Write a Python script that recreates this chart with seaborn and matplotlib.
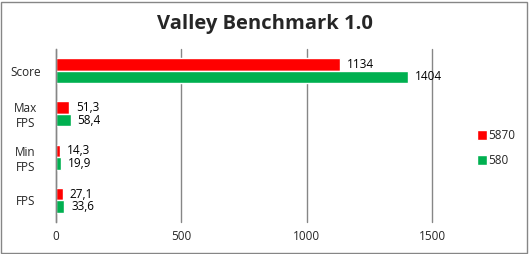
import matplotlib
matplotlib.use("Agg")
import matplotlib.pyplot as plt
import seaborn as sns
import pandas as pd
from matplotlib.patches import Rectangle

categories = ["Score", "Max\nFPS", "Min\nFPS", "FPS"]
series_names = ["5870", "580"]
values_5870 = [1134, 51.3, 14.3, 27.1]
values_580 = [1404, 58.4, 19.9, 33.6]
labels_5870 = ["1134", "51,3", "14,3", "27,1"]
labels_580 = ["1404", "58,4", "19,9", "33,6"]
xticks = [0, 500, 1000, 1500]

colors = {"5870": "#FF0000", "580": "#00B050"}

rows = []
for c, v in zip(categories, values_5870):
    rows.append({"cat": c, "series": "5870", "value": v})
for c, v in zip(categories, values_580):
    rows.append({"cat": c, "series": "580", "value": v})
df = pd.DataFrame(rows)

sns.set_style("white")
plt.rcParams["font.family"] = ["Open Sans", "DejaVu Sans"]

fig = plt.figure(figsize=(5.29, 2.54), dpi=100)
fig.patch.set_facecolor("white")
fig.patches.append(Rectangle((0.002, 0.004), 0.995, 0.99, transform=fig.transFigure,
                             fill=False, edgecolor="#868686", linewidth=1.0))

ax = fig.add_axes([56 / 529, 32 / 254, (432 - 56) / 529, (222 - 49) / 254])
sns.barplot(data=df, y="cat", x="value", hue="series", orient="h",
            order=categories, hue_order=series_names, palette=colors,
            width=0.58, saturation=1, ax=ax, legend=False)

for cont, labs in zip(ax.containers, [labels_5870, labels_580]):
    ax.bar_label(cont, labels=labs, padding=5, fontsize=8.5, color="#000000")

ax.set_xlim(0, 1500)
ax.set_xticks(xticks)
ax.set_xticklabels([str(t) for t in xticks], fontsize=8.5)
ax.tick_params(axis="x", length=0, pad=6)
ax.tick_params(axis="y", labelsize=8.5, length=0, pad=22)
for lab in ax.get_yticklabels():
    lab.set_horizontalalignment("center")
    lab.set_multialignment("center")
ax.set_xlabel("")
ax.set_ylabel("")
ax.grid(axis="x", color="#868686", linewidth=1.0)
for gl in ax.get_xgridlines():
    gl.set_clip_on(False)
ax.set_axisbelow(True)
for s in ["top", "right", "bottom"]:
    ax.spines[s].set_visible(False)
ax.spines["left"].set_color("#868686")
ax.spines["left"].set_linewidth(1.0)

handles = [Rectangle((0, 0), 1, 1, facecolor=colors[n]) for n in series_names]
fig.legend(handles, series_names, loc="center left", bbox_to_anchor=(466 / 529, 1 - 148 / 254),
           frameon=False, fontsize=8.5, handlelength=0.85, handleheight=0.85,
           handletextpad=0.15, labelspacing=1.0)

fig.text(0.5, 1 - 24 / 254, "Valley Benchmark 1.0", ha="center", va="center",
         fontsize=14.5, fontweight="bold")

fig.savefig("out.png", dpi=100)
